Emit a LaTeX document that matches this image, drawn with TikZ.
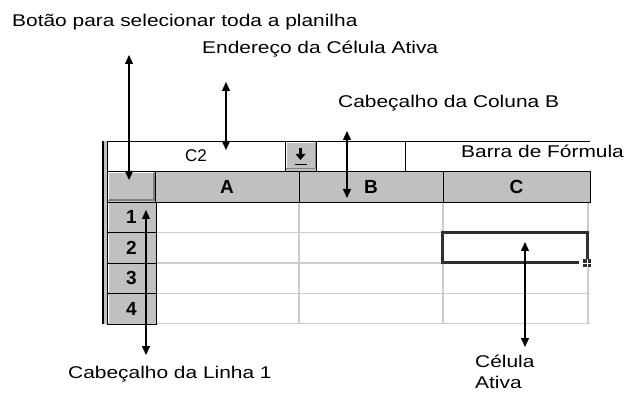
\documentclass[tikz,border=0pt]{standalone}
\usepackage{fontspec}
\setmainfont{Liberation Sans}
\usepackage{graphicx}
\usetikzlibrary{arrows.meta}

\definecolor{btngray}{HTML}{C0C0C0}
\definecolor{gridgray}{HTML}{CDCDCD}
\definecolor{shadow}{HTML}{808080}
\definecolor{cellborder}{HTML}{303030}
\newcommand\wide[1]{\scalebox{1.23}[1]{#1}}

\begin{document}
\begin{tikzpicture}[x=1pt,y=-1pt,
  lbl/.style={anchor=base west,inner sep=0pt,font=\fontsize{17}{21}\selectfont},
  hdr/.style={fill=btngray,draw=black,line width=0.9pt,inner sep=0pt,
    font=\fontsize{19}{19}\selectfont\bfseries},
  gridline/.style={gridgray,line width=1.3pt},
  dbl/.style={{Triangle[length=9pt,width=8pt]}-{Triangle[length=9pt,width=8pt]},line width=1.3pt}]
  \useasboundingbox (0,0) rectangle (626,395);

  % left double edge of the window
  \fill[btngray] (103,141) rectangle (107,324);
  \draw[black,line width=1.6pt] (103,141) -- (103,324);

  % formula bar
  \draw[line width=0.9pt] (107,141) -- (590,141);
  \node[draw=black,line width=0.9pt,minimum width=178pt,minimum height=30pt,inner sep=0pt,
    font=\fontsize{17}{17}\selectfont] (namebox) at (196,156) {C2};
  \node[hdr,minimum width=31pt,minimum height=30pt] (drop) at (300.5,156) {};
  \draw[white,line width=1pt] (286,169) -- (286,143) -- (315,143);
  \draw[shadow,line width=1pt] (286,169) -- (315,169) -- (315,143);
  \fill (295.5,154) -- (305.5,154) -- (300.5,160) -- cycle;
  \draw[line width=2.6pt] (300.5,148) -- (300.5,155);
  \draw[line width=1.6pt] (294.5,164.5) -- (306.5,164.5);
  \draw[line width=0.9pt] (316,141) -- (316,171);
  \draw[line width=0.9pt] (405,141) -- (405,171);

  % grid
  \foreach \y in {232.5,263,293.5,323.5}
    \draw[gridline] (156,\y) -- (590,\y);
  \foreach \x in {299,443,588}
    \draw[gridline] (\x,202) -- (\x,324);

  % column headers
  \node[hdr,minimum width=48pt,minimum height=31pt] (selall) at (131,186.5) {};
  \node[hdr,minimum width=144pt,minimum height=31pt] (colA) at (227,186.5) {A};
  \node[hdr,minimum width=144pt,minimum height=31pt] (colB) at (371,186.5) {B};
  \node[hdr,minimum width=147pt,minimum height=31pt] (colC) at (516.5,186.5) {C};
  \draw[white,line width=1.2pt] (108.5,200) -- (108.5,172.5) -- (153,172.5);
  \draw[shadow,line width=2pt] (109,200.5) -- (154,200.5) -- (154,173);

  % row headers
  \foreach \r/\y in {1/217.25,2/247.75,3/278.25,4/308.75} {
    \node[hdr,minimum width=49pt,minimum height=30.5pt] (row\r) at (131.5,\y) {\r};
    \draw[white,line width=1.2pt] (108.5,\y+14) -- (108.5,\y-14);
  }

  % active cell with fill handle
  \draw[cellborder,line width=3pt] (442,232.5) rectangle (587,263);
  \fill[white] (579,261) rectangle (583,265);
  \fill[cellborder] (583,259) rectangle (591,267);
  \draw[white,line width=0.8pt] (587,259) -- (587,267) (583,263) -- (591,263);

  % labels
  \node[lbl] (botao) at (12,27) {\wide{Botão para selecionar toda a planilha}};
  \node[lbl] (endereco) at (202,54) {\wide{Endereço da Célula Ativa}};
  \node[lbl] (cabcol) at (338,108) {\wide{Cabeçalho da Coluna B}};
  \node[lbl] (barra) at (461,158) {\wide{Barra de Fórmula}};
  \node[lbl] (cablin) at (68,378) {\wide{Cabeçalho da Linha 1}};
  \node[lbl,align=left] (celula) at (475,388) {\wide{Célula}\\\wide{Ativa}};

  % arrows
  \coordinate (botaoEnd) at (129,55);
  \coordinate (selallEnd) at (129,180);
  \coordinate (enderecoEnd) at (226,82);
  \coordinate (nameboxEnd) at (226,150);
  \coordinate (cabcolEnd) at (347,131);
  \coordinate (colBEnd) at (347,198);
  \coordinate (row1End) at (146,210);
  \coordinate (cablinEnd) at (146,355);
  \coordinate (activeEnd) at (525,242);
  \coordinate (celulaEnd) at (525,347);
  \draw[dbl] (botaoEnd) -- (selallEnd);
  \draw[dbl] (enderecoEnd) -- (nameboxEnd);
  \draw[dbl] (cabcolEnd) -- (colBEnd);
  \draw[dbl] (row1End) -- (cablinEnd);
  \draw[dbl] (activeEnd) -- (celulaEnd);
\end{tikzpicture}
\end{document}
